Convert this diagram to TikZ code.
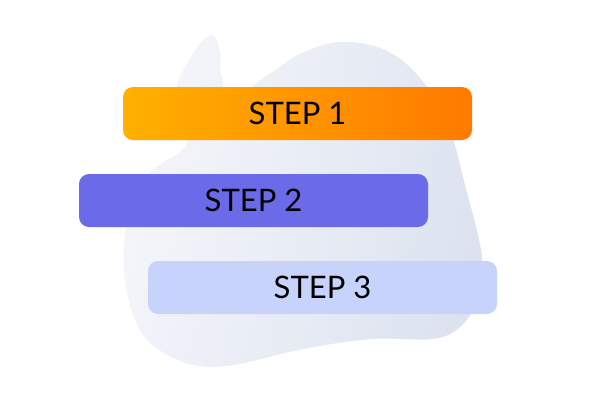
\documentclass[tikz,border=0pt]{standalone}
\usepackage{fontspec}
\setmainfont{Lato}
\usepackage{xcolor}
\usetikzlibrary{positioning}

\definecolor{blobL}{HTML}{F5F6FB}
\definecolor{blobM}{HTML}{E8ECF5}
\definecolor{blobR}{HTML}{DCE3EF}
\definecolor{orangeL}{HTML}{FFB000}
\definecolor{orangeR}{HTML}{FF7A00}
\definecolor{violet}{HTML}{6B6AE8}
\definecolor{paleblue}{HTML}{C7D3FB}

\tikzset{
    stepbar/.style={rectangle, rounded corners=10pt, minimum width=349pt,
        minimum height=53pt, inner sep=0pt, font=\fontsize{31}{34}\selectfont},
    blobpath/.style={smooth cycle, tension=0.6},
}

\begin{document}
\begin{tikzpicture}[x=1pt,y=-1pt]
    \useasboundingbox (0,0) rectangle (600,400);

    % Background blob
    \def\blobpts{(212,35) (220,52) (221,75) (232,98) (268,75) (300,54) (340,42)
        (385,50) (420,78) (448,125) (466,189) (482,257) (477,300) (460,327)
        (432,339) (371,339) (303,349) (225,366) (178,360) (140,330)
        (124,270) (130,210) (151,172) (186,146) (180,118) (177,85) (197,48)}
    \fill[blobL] plot[blobpath] coordinates {\blobpts};
    \shade[left color=blobL, right color=blobR, shading angle=75]
        plot[blobpath] coordinates {\blobpts};

    % Steps
    \node[stepbar, left color=orangeL, right color=orangeR] (step1) at (297.5,113.5) {STEP 1};
    \node[stepbar, fill=violet] (step2) at (253.5,200.5) {STEP 2};
    \node[stepbar, fill=paleblue] (step3) at (322.5,287.5) {STEP 3};
\end{tikzpicture}
\end{document}
